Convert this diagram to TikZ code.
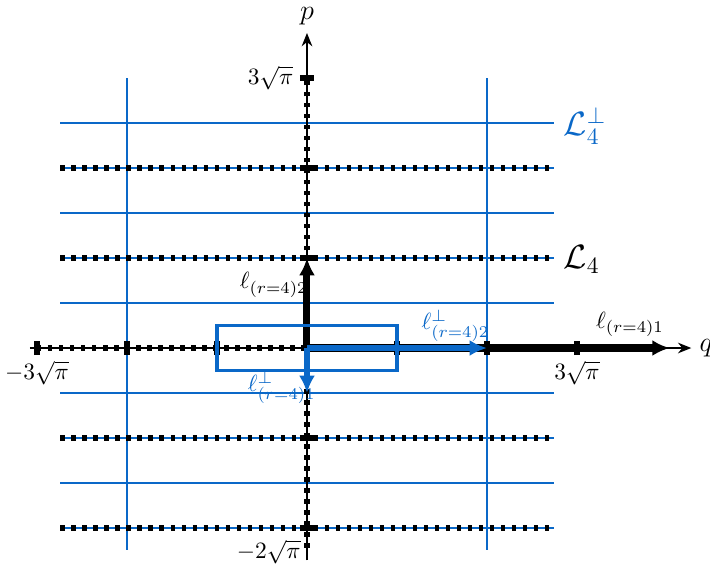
\documentclass[tikz,border=0pt]{standalone}
\usepackage{amsmath,amssymb}
\usetikzlibrary{arrows.meta}
\definecolor{latblue}{RGB}{10,104,200}
\begin{document}
\begin{tikzpicture}[x=1.35cm, y=1.35cm,
  bluegrid/.style={latblue, line width=0.85pt},
  dashlat/.style={line width=2.3pt, dash pattern=on 1.9pt off 2.8pt},
  axis/.style={line width=0.6pt, -{Stealth[length=2mm,width=1.6mm]}},
  tickbar/.style={line width=2.6pt},
  vec/.style={line width=3pt, -{Latex[length=2.6mm,width=2.4mm]}},
  bvec/.style={vec, latblue, line width=2.5pt}
]
  \useasboundingbox (-3.411,-2.389) rectangle (4.478,3.867);

  % --- reseau L4 perp (bleu) ---
  \foreach \y in {-2,-1.5,...,2.5} \draw[bluegrid] (-2.74,\y) -- (2.74,\y);
  \foreach \x in {-2,2} \draw[bluegrid] (\x,3) -- (\x,-2.24);

  % --- axes ---
  \coordinate (qstart) at (-3.08,0);
  \coordinate (qend)   at (4.27,0);
  \coordinate (pstart) at (0,-2.36);
  \coordinate (pend)   at (0,3.5);
  \draw[axis] (qstart) -- (qend);
  \draw[axis] (pstart) -- (pend);
  \node[anchor=west, font=\large] (qlab) at (qend) {$q$};
  \node[anchor=south, font=\large] (plab) at (pend) {$p$};

  % --- reseau L4 (pointille) ---
  \foreach \y in {-2,-1,1,2} \draw[dashlat] (-2.74,\y) -- (2.74,\y);
  \draw[dashlat] (-3,0) -- (3,0);
  \draw[dashlat] (0,-2.22) -- (0,3);

  % --- graduations ---
  \foreach \x in {-3,-2,-1,1,2,3} \draw[tickbar] (\x,-0.08) -- (\x,0.08);
  \foreach \y in {-2,-1,1,2,3} \draw[tickbar] (-0.08,\y) -- (0.08,\y);
  \node[below] (qp3) at (3,-0.05)  {$3\sqrt{\pi}$};
  \node[below] (qm3) at (-3,-0.05) {$-3\sqrt{\pi}$};
  \node[left]  (pp3) at (-0.06,3)  {$3\sqrt{\pi}$};
  \node[anchor=north east] (pm2) at (0.02,-2.04) {$-2\sqrt{\pi}$};

  % --- vecteurs ---
  \coordinate (O)   at (0,0);
  \coordinate (l1)  at (4.03,0);
  \coordinate (l2)  at (0,1);
  \coordinate (lp2) at (2,0);
  \coordinate (lp1) at (0,-0.5);
  \draw[vec] (O) -- (l1);
  \draw[vec] (O) -- (l2);
  \draw[latblue, line width=1.3pt] (-1,-0.25) rectangle (1,0.25);
  \draw[bvec] (O) -- (lp2);
  \draw[bvec] (O) -- (lp1);

  % --- etiquettes ---
  \node (l1lab)  at (3.59,0.26)  {$\ell_{(r=4)1}$};
  \node (l2lab)  at (-0.37,0.7)  {$\ell_{(r=4)2}$};
  \node[text=latblue] (lp2lab) at (1.65,0.25)  {$\ell^{\perp}_{(r=4)2}$};
  \node[text=latblue] (lp1lab) at (-0.28,-0.44) {$\ell^{\perp}_{(r=4)1}$};
  \node[anchor=west, text=latblue, font=\Large] (Lperp) at (2.76,2.47) {$\mathcal{L}_4^{\perp}$};
  \node[anchor=west, font=\Large] (L4) at (2.76,0.98) {$\mathcal{L}_4$};
\end{tikzpicture}
\end{document}
